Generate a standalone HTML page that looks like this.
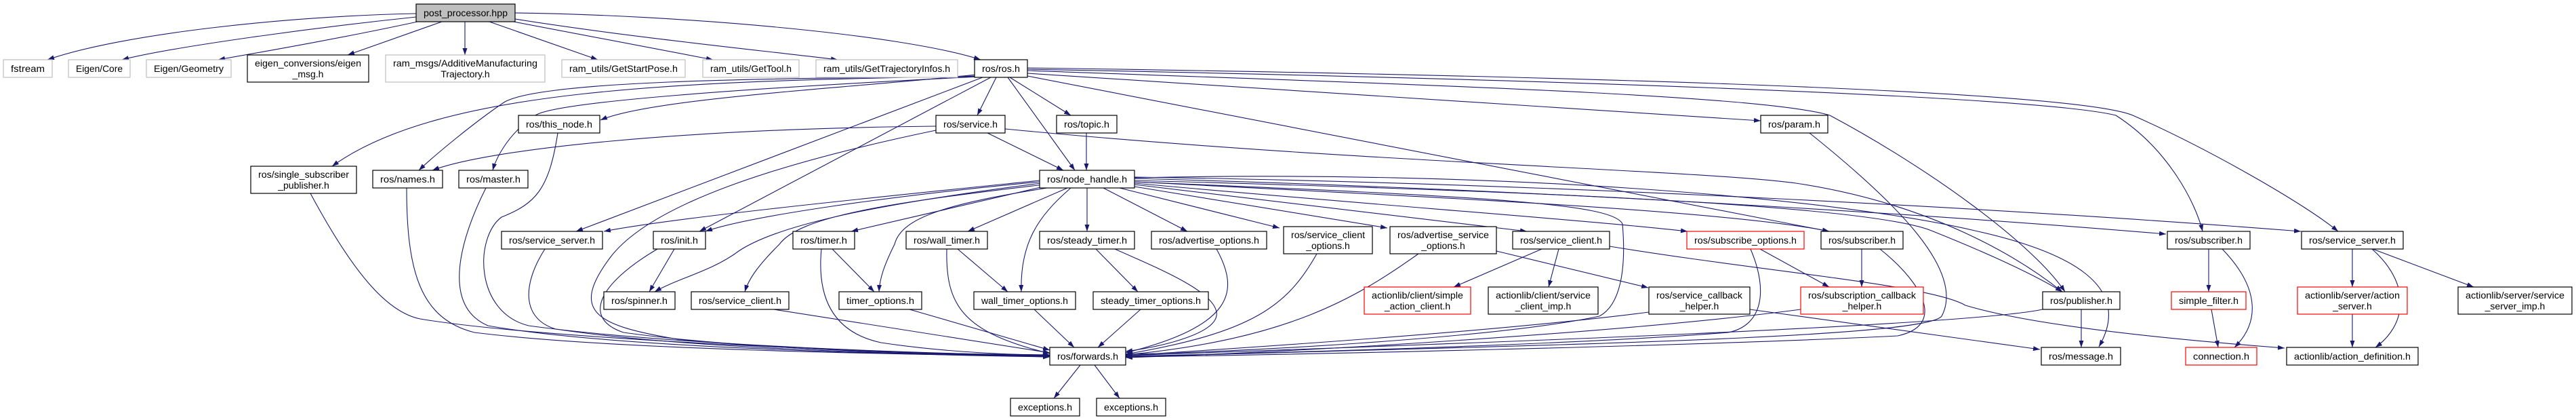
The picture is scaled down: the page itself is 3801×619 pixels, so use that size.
<!DOCTYPE html>
<html><head><meta charset="utf-8"><style>
html,body{margin:0;padding:0;background:#fff;}
svg{display:block;}
text{font-family:"Liberation Sans",sans-serif;font-size:14px;fill:#000;}
.e{fill:none;stroke:#191970;stroke-width:1.1;marker-end:url(#a);}
</style></head><body>
<svg width="3801" height="619" viewBox="0 0 3801 619" xmlns="http://www.w3.org/2000/svg">
<defs><marker id="a" viewBox="0 0 10 7" refX="10" refY="3.5" markerWidth="10" markerHeight="7" markerUnits="userSpaceOnUse" orient="auto"><path d="M0,0L10,3.5L0,7z" fill="#191970"/></marker></defs>
<g>
<path class="e" d="M614,20 C420,24 180,50 70,88"/>
<path class="e" d="M614,25 C470,40 260,68 180,88"/>
<path class="e" d="M616,32 C510,55 390,76 322,88"/>
<path class="e" d="M652,32 L513,81"/>
<path class="e" d="M686,32 L686,81"/>
<path class="e" d="M722,32 L882,88"/>
<path class="e" d="M758,32 L1052,88"/>
<path class="e" d="M760,28 C930,55 1130,75 1236,88"/>
<path class="e" d="M760,19 C1000,22 1330,50 1447,88"/>
<path class="e" d="M1440,110 C1250,130 960,145 886,177"/>
<path class="e" d="M1440,112 C1000,120 650,130 490,245"/>
<path class="e" d="M1442,113 C1100,115 800,120 745,150 C700,180 640,230 618,251"/>
<path class="e" d="M1444,113 C1100,130 820,150 790,170 C745,200 730,240 727,251"/>
<path class="e" d="M1450,114 L850,341"/>
<path class="e" d="M1462,114 L1032,341"/>
<path class="e" d="M1470,114 L1442,170"/>
<path class="e" d="M1490,114 L1580,170"/>
<path class="e" d="M1487,114 L1586,251"/>
<path class="e" d="M1516,108 L2598,178"/>
<path class="e" d="M1516,112 L2699,341"/>
<path class="e" d="M1516,104 C2100,125 2600,140 2700,170 C2850,250 3000,360 3047,430"/>
<path class="e" d="M1516,102 C2200,115 3000,140 3122,170 C3200,220 3240,300 3250,341"/>
<path class="e" d="M1516,100 C2200,110 3050,130 3147,170 C3260,220 3400,300 3450,341"/>
<path class="e" d="M1457,196 L1569,251"/>
<path class="e" d="M1381,186 C1000,190 720,220 638,251"/>
<path class="e" d="M1381,192 C1150,240 960,300 900,380 C840,460 880,480 1000,500 C1200,520 1450,522 1549,523"/>
<path class="e" d="M1483,190 C2000,240 2500,250 2650,270 C2850,300 2980,380 3043,430"/>
<path class="e" d="M1603,196 L1603,251"/>
<path class="e" d="M823,196 C810,280 790,300 740,320 C700,350 700,460 780,480 C1000,510 1400,522 1549,524"/>
<path class="e" d="M458,285 C520,400 570,460 620,470 C800,500 1300,520 1549,526"/>
<path class="e" d="M600,277 C600,400 620,470 700,490 C900,515 1300,522 1549,525"/>
<path class="e" d="M717,277 C680,350 650,450 720,480 C900,512 1300,522 1549,526"/>
<path class="e" d="M804,367 C770,420 770,470 820,485 C1000,512 1300,522 1549,525"/>
<path class="e" d="M995,367 L958,430"/>
<path class="e" d="M970,367 C880,420 860,470 920,490 C1100,515 1350,522 1549,524"/>
<path class="e" d="M1142,456 L1549,520"/>
<path class="e" d="M1228,367 L1290,430"/>
<path class="e" d="M1212,367 C1205,440 1230,490 1300,505 C1400,520 1500,523 1549,523"/>
<path class="e" d="M1534,266 C1300,290 1000,320 891,341"/>
<path class="e" d="M1534,268 C1300,290 1100,320 1041,341"/>
<path class="e" d="M1536,270 C1300,300 1150,330 1090,370 C1050,400 1000,410 966,430"/>
<path class="e" d="M1540,272 C1300,300 1180,320 1150,360 C1120,390 1105,410 1099,430"/>
<path class="e" d="M1540,275 L1256,341"/>
<path class="e" d="M1545,277 C1400,300 1330,320 1320,360 C1305,390 1298,410 1297,430"/>
<path class="e" d="M1575,277 L1428,341"/>
<path class="e" d="M1580,277 C1530,320 1505,360 1507,430"/>
<path class="e" d="M1604,277 L1604,341"/>
<path class="e" d="M1628,277 L1752,341"/>
<path class="e" d="M1652,277 L1888,336"/>
<path class="e" d="M1674,275 L2047,336"/>
<path class="e" d="M1674,272 L2253,341"/>
<path class="e" d="M1674,270 C2000,300 2350,325 2490,341"/>
<path class="e" d="M1674,268 C2100,290 2550,310 2699,341"/>
<path class="e" d="M1674,266 C2200,280 2750,300 2850,340 C2950,380 3010,410 3043,430"/>
<path class="e" d="M1674,262 C2200,250 2700,290 2914,340 C3050,370 3150,420 3097,511"/>
<path class="e" d="M1674,263 C2300,280 2900,320 3196,345"/>
<path class="e" d="M1674,261 C2300,270 3000,310 3395,341"/>
<path class="e" d="M1674,268 C2200,290 2380,300 2394,330 C2400,400 2390,450 2360,466 C2200,500 1800,520 1661,522"/>
<path class="e" d="M1413,367 L1487,430"/>
<path class="e" d="M1397,367 C1395,450 1420,490 1549,521"/>
<path class="e" d="M1617,367 L1679,430"/>
<path class="e" d="M1645,367 C1720,400 1790,430 1795,460 C1800,490 1720,510 1661,518"/>
<path class="e" d="M1795,367 C1830,430 1820,480 1661,520"/>
<path class="e" d="M1943,374 C1900,450 1850,490 1661,522"/>
<path class="e" d="M2093,374 C2000,440 1900,500 1661,523"/>
<path class="e" d="M2208,370 L2432,424"/>
<path class="e" d="M2275,367 L2145,423"/>
<path class="e" d="M2300,367 L2285,423"/>
<path class="e" d="M2375,363 C2600,400 2850,420 2900,450 C3000,480 3200,500 3371,513"/>
<path class="e" d="M1526,456 L1585,512"/>
<path class="e" d="M1683,456 L1620,512"/>
<path class="e" d="M1342,456 L1549,516"/>
<path class="e" d="M2433,460 C2200,490 1800,515 1661,524"/>
<path class="e" d="M2582,456 L3010,515"/>
<path class="e" d="M2597,367 L2699,423"/>
<path class="e" d="M2583,367 C2610,430 2600,480 2550,490 C2300,510 1800,522 1661,525"/>
<path class="e" d="M2747,367 L2747,423"/>
<path class="e" d="M2774,367 C2840,420 2870,480 2800,495 C2500,510 1900,523 1661,526"/>
<path class="e" d="M2657,456 C2400,490 1900,520 1661,527"/>
<path class="e" d="M2670,196 C2800,300 2900,400 2865,466 C2840,500 2200,510 1661,526"/>
<path class="e" d="M3071,456 L3071,512"/>
<path class="e" d="M3014,456 C2900,480 2200,505 1661,524"/>
<path class="e" d="M3259,367 L3259,430"/>
<path class="e" d="M3279,367 C3340,430 3330,480 3297,512"/>
<path class="e" d="M3263,456 L3273,512"/>
<path class="e" d="M3471,367 L3471,423"/>
<path class="e" d="M3500,367 C3560,420 3550,480 3505,512"/>
<path class="e" d="M3501,367 L3650,423"/>
<path class="e" d="M3471,463 L3471,512"/>
<path class="e" d="M1594,538 L1555,587"/>
<path class="e" d="M1615,538 L1652,587"/>
</g>
<g id="nodes"></g>
<g stroke-width="1.2">
<!-- helper: each node rect + text -->
<rect x="614" y="6" width="146" height="26" fill="#bfbfbf" stroke="#000"/><text x="687" y="24" text-anchor="middle" textLength="124" lengthAdjust="spacingAndGlyphs">post_processor.hpp</text>

<rect x="5" y="88" width="72" height="26" fill="#fff" stroke="#bfbfbf"/><text x="41" y="106" text-anchor="middle" textLength="50" lengthAdjust="spacingAndGlyphs">fstream</text>
<rect x="101" y="88" width="91" height="26" fill="#fff" stroke="#bfbfbf"/><text x="146.5" y="106" text-anchor="middle" textLength="69" lengthAdjust="spacingAndGlyphs">Eigen/Core</text>
<rect x="216" y="88" width="125" height="26" fill="#fff" stroke="#bfbfbf"/><text x="278.5" y="106" text-anchor="middle" textLength="103" lengthAdjust="spacingAndGlyphs">Eigen/Geometry</text>
<rect x="365" y="81" width="179" height="40" fill="#fff" stroke="#000"/><text x="454.5" y="98" text-anchor="middle" textLength="157" lengthAdjust="spacingAndGlyphs">eigen_conversions/eigen</text><text x="454.5" y="114" text-anchor="middle">_msg.h</text>
<rect x="569" y="81" width="235" height="40" fill="#fff" stroke="#bfbfbf"/><text x="686.5" y="98" text-anchor="middle" textLength="213" lengthAdjust="spacingAndGlyphs">ram_msgs/AdditiveManufacturing</text><text x="686.5" y="114" text-anchor="middle">Trajectory.h</text>
<rect x="829" y="88" width="182" height="26" fill="#fff" stroke="#bfbfbf"/><text x="920" y="106" text-anchor="middle" textLength="160" lengthAdjust="spacingAndGlyphs">ram_utils/GetStartPose.h</text>
<rect x="1037" y="88" width="142" height="26" fill="#fff" stroke="#bfbfbf"/><text x="1108" y="106" text-anchor="middle" textLength="120" lengthAdjust="spacingAndGlyphs">ram_utils/GetTool.h</text>
<rect x="1204" y="88" width="209" height="26" fill="#fff" stroke="#bfbfbf"/><text x="1308.5" y="106" text-anchor="middle" textLength="187" lengthAdjust="spacingAndGlyphs">ram_utils/GetTrajectoryInfos.h</text>
<rect x="1438" y="88" width="78" height="26" fill="#fff" stroke="#000"/><text x="1477" y="106" text-anchor="middle" textLength="56" lengthAdjust="spacingAndGlyphs">ros/ros.h</text>

<rect x="765" y="170" width="120" height="26" fill="#fff" stroke="#000"/><text x="825" y="188" text-anchor="middle" textLength="98" lengthAdjust="spacingAndGlyphs">ros/this_node.h</text>
<rect x="1381" y="170" width="102" height="26" fill="#fff" stroke="#000"/><text x="1432" y="188" text-anchor="middle" textLength="80" lengthAdjust="spacingAndGlyphs">ros/service.h</text>
<rect x="1559" y="170" width="89" height="26" fill="#fff" stroke="#000"/><text x="1603.5" y="188" text-anchor="middle" textLength="67" lengthAdjust="spacingAndGlyphs">ros/topic.h</text>
<rect x="2598" y="170" width="99" height="26" fill="#fff" stroke="#000"/><text x="2647.5" y="188" text-anchor="middle" textLength="77" lengthAdjust="spacingAndGlyphs">ros/param.h</text>

<rect x="370" y="245" width="156" height="40" fill="#fff" stroke="#000"/><text x="448" y="262" text-anchor="middle" textLength="134" lengthAdjust="spacingAndGlyphs">ros/single_subscriber</text><text x="448" y="278" text-anchor="middle">_publisher.h</text>
<rect x="550" y="251" width="103" height="26" fill="#fff" stroke="#000"/><text x="601.5" y="269" text-anchor="middle" textLength="81" lengthAdjust="spacingAndGlyphs">ros/names.h</text>
<rect x="677" y="251" width="102" height="26" fill="#fff" stroke="#000"/><text x="728" y="269" text-anchor="middle" textLength="80" lengthAdjust="spacingAndGlyphs">ros/master.h</text>
<rect x="1534" y="251" width="140" height="26" fill="#fff" stroke="#000"/><text x="1604" y="269" text-anchor="middle" textLength="118" lengthAdjust="spacingAndGlyphs">ros/node_handle.h</text>

<rect x="740" y="341" width="149" height="26" fill="#fff" stroke="#000"/><text x="814.5" y="359" text-anchor="middle" textLength="127" lengthAdjust="spacingAndGlyphs">ros/service_server.h</text>
<rect x="964" y="341" width="77" height="26" fill="#fff" stroke="#000"/><text x="1002.5" y="359" text-anchor="middle" textLength="55" lengthAdjust="spacingAndGlyphs">ros/init.h</text>
<rect x="1170" y="341" width="91" height="26" fill="#fff" stroke="#000"/><text x="1215.5" y="359" text-anchor="middle" textLength="69" lengthAdjust="spacingAndGlyphs">ros/timer.h</text>
<rect x="1337" y="341" width="120" height="26" fill="#fff" stroke="#000"/><text x="1397" y="359" text-anchor="middle" textLength="98" lengthAdjust="spacingAndGlyphs">ros/wall_timer.h</text>
<rect x="1534" y="341" width="140" height="26" fill="#fff" stroke="#000"/><text x="1604" y="359" text-anchor="middle" textLength="118" lengthAdjust="spacingAndGlyphs">ros/steady_timer.h</text>
<rect x="1699" y="341" width="170" height="26" fill="#fff" stroke="#000"/><text x="1784" y="359" text-anchor="middle" textLength="148" lengthAdjust="spacingAndGlyphs">ros/advertise_options.h</text>
<rect x="1894" y="334" width="131" height="40" fill="#fff" stroke="#000"/><text x="1959.5" y="351" text-anchor="middle" textLength="109" lengthAdjust="spacingAndGlyphs">ros/service_client</text><text x="1959.5" y="367" text-anchor="middle">_options.h</text>
<rect x="2051" y="334" width="157" height="40" fill="#fff" stroke="#000"/><text x="2129.5" y="351" text-anchor="middle" textLength="135" lengthAdjust="spacingAndGlyphs">ros/advertise_service</text><text x="2129.5" y="367" text-anchor="middle">_options.h</text>
<rect x="2232" y="341" width="143" height="26" fill="#fff" stroke="#000"/><text x="2303.5" y="359" text-anchor="middle" textLength="121" lengthAdjust="spacingAndGlyphs">ros/service_client.h</text>
<rect x="2489" y="341" width="173" height="26" fill="#fff" stroke="#ff0000"/><text x="2575.5" y="359" text-anchor="middle" textLength="151" lengthAdjust="spacingAndGlyphs">ros/subscribe_options.h</text>
<rect x="2687" y="341" width="121" height="26" fill="#fff" stroke="#000"/><text x="2747.5" y="359" text-anchor="middle" textLength="99" lengthAdjust="spacingAndGlyphs">ros/subscriber.h</text>
<rect x="3198" y="341" width="122" height="26" fill="#fff" stroke="#000"/><text x="3259" y="359" text-anchor="middle" textLength="100" lengthAdjust="spacingAndGlyphs">ros/subscriber.h</text>
<rect x="3396" y="341" width="150" height="26" fill="#fff" stroke="#000"/><text x="3471" y="359" text-anchor="middle" textLength="128" lengthAdjust="spacingAndGlyphs">ros/service_server.h</text>

<rect x="891" y="430" width="105" height="26" fill="#fff" stroke="#000"/><text x="943.5" y="448" text-anchor="middle" textLength="83" lengthAdjust="spacingAndGlyphs">ros/spinner.h</text>
<rect x="1020" y="430" width="144" height="26" fill="#fff" stroke="#000"/><text x="1092" y="448" text-anchor="middle" textLength="122" lengthAdjust="spacingAndGlyphs">ros/service_client.h</text>
<rect x="1238" y="430" width="122" height="26" fill="#fff" stroke="#000"/><text x="1299" y="448" text-anchor="middle" textLength="100" lengthAdjust="spacingAndGlyphs">timer_options.h</text>
<rect x="1437" y="430" width="150" height="26" fill="#fff" stroke="#000"/><text x="1512" y="448" text-anchor="middle" textLength="128" lengthAdjust="spacingAndGlyphs">wall_timer_options.h</text>
<rect x="1613" y="430" width="170" height="26" fill="#fff" stroke="#000"/><text x="1698" y="448" text-anchor="middle" textLength="148" lengthAdjust="spacingAndGlyphs">steady_timer_options.h</text>
<rect x="2013" y="423" width="157" height="40" fill="#fff" stroke="#ff0000"/><text x="2091.5" y="440" text-anchor="middle" textLength="135" lengthAdjust="spacingAndGlyphs">actionlib/client/simple</text><text x="2091.5" y="456" text-anchor="middle">_action_client.h</text>
<rect x="2196" y="423" width="162" height="40" fill="#fff" stroke="#000"/><text x="2277" y="440" text-anchor="middle" textLength="140" lengthAdjust="spacingAndGlyphs">actionlib/client/service</text><text x="2277" y="456" text-anchor="middle">_client_imp.h</text>
<rect x="2433" y="423" width="149" height="40" fill="#fff" stroke="#000"/><text x="2507.5" y="440" text-anchor="middle" textLength="127" lengthAdjust="spacingAndGlyphs">ros/service_callback</text><text x="2507.5" y="456" text-anchor="middle">_helper.h</text>
<rect x="2657" y="423" width="181" height="40" fill="#fff" stroke="#ff0000"/><text x="2747.5" y="440" text-anchor="middle" textLength="159" lengthAdjust="spacingAndGlyphs">ros/subscription_callback</text><text x="2747.5" y="456" text-anchor="middle">_helper.h</text>
<rect x="3014" y="430" width="114" height="26" fill="#fff" stroke="#000"/><text x="3071" y="448" text-anchor="middle" textLength="92" lengthAdjust="spacingAndGlyphs">ros/publisher.h</text>
<rect x="3204" y="430" width="110" height="26" fill="#fff" stroke="#ff0000"/><text x="3259" y="448" text-anchor="middle" textLength="88" lengthAdjust="spacingAndGlyphs">simple_filter.h</text>
<rect x="3390" y="423" width="162" height="40" fill="#fff" stroke="#ff0000"/><text x="3471" y="440" text-anchor="middle" textLength="140" lengthAdjust="spacingAndGlyphs">actionlib/server/action</text><text x="3471" y="456" text-anchor="middle">_server.h</text>
<rect x="3627" y="423" width="168" height="40" fill="#fff" stroke="#000"/><text x="3711" y="440" text-anchor="middle" textLength="146" lengthAdjust="spacingAndGlyphs">actionlib/server/service</text><text x="3711" y="456" text-anchor="middle">_server_imp.h</text>

<rect x="1549" y="512" width="112" height="26" fill="#fff" stroke="#000"/><text x="1605" y="530" text-anchor="middle" textLength="90" lengthAdjust="spacingAndGlyphs">ros/forwards.h</text>
<rect x="3012" y="512" width="117" height="26" fill="#fff" stroke="#000"/><text x="3070.5" y="530" text-anchor="middle" textLength="95" lengthAdjust="spacingAndGlyphs">ros/message.h</text>
<rect x="3225" y="512" width="105" height="26" fill="#fff" stroke="#ff0000"/><text x="3277.5" y="530" text-anchor="middle" textLength="83" lengthAdjust="spacingAndGlyphs">connection.h</text>
<rect x="3374" y="512" width="194" height="26" fill="#fff" stroke="#000"/><text x="3471" y="530" text-anchor="middle" textLength="172" lengthAdjust="spacingAndGlyphs">actionlib/action_definition.h</text>

<rect x="1491" y="587" width="102" height="26" fill="#fff" stroke="#000"/><text x="1542" y="605" text-anchor="middle" textLength="80" lengthAdjust="spacingAndGlyphs">exceptions.h</text>
<rect x="1618" y="587" width="102" height="26" fill="#fff" stroke="#000"/><text x="1669" y="605" text-anchor="middle" textLength="80" lengthAdjust="spacingAndGlyphs">exceptions.h</text>
</g>
</svg>
</body></html>
